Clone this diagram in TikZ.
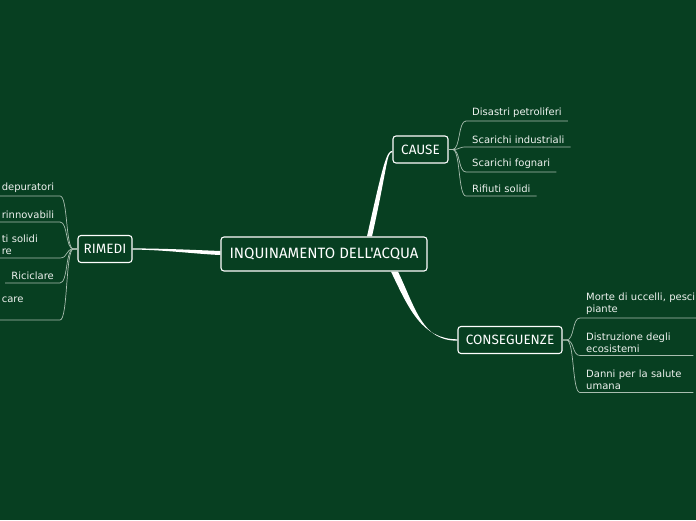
\documentclass[tikz,border=0pt]{standalone}
\usepackage{fontspec}
\setmainfont{DejaVu Sans}
\newfontfamily\handfont{Fira Sans}
\usepackage{tikz}
\usetikzlibrary{calc,positioning}
\definecolor{bgx}{HTML}{073F21}
\definecolor{twigx}{HTML}{A9BEB0}
\definecolor{leafx}{HTML}{EEF2EF}
\tikzset{
  topic/.style={draw=white,line width=1.1pt,rounded corners=3pt,fill=bgx,text=white,
    font=\handfont\fontsize{13.5}{15}\selectfont,minimum height=27pt,inner xsep=4pt},
  root/.style={topic,font=\handfont\fontsize{15}{17}\selectfont,minimum height=34pt,minimum width=206pt},
  leaf/.style={text=leafx,font=\fontsize{10}{12}\selectfont,align=left,inner xsep=6pt,inner ysep=3pt},
  cut/.style={leaf,text width=52pt},
  twig/.style={twigx,line width=0.7pt},
  trunk/.style={fill=white}
}

\begin{document}
\begin{tikzpicture}[x=1pt,y=-1pt]
\fill[bgx] (0,0) rectangle (696,520);
\useasboundingbox (0,0) rectangle (696,520);
\clip (0,0) rectangle (696,520);

% main topics
\node[root] (central) at (324,254) {INQUINAMENTO DELL'ACQUA};
\node[topic,minimum width=55pt] (cause) at (420.5,149.5) {CAUSE};
\node[topic,minimum width=54pt] (rimedi) at (105,249) {RIMEDI};
\node[topic,minimum width=104pt] (conseg) at (510,340) {CONSEGUENZE};

% branches
\fill[trunk] ($(central.north)+(43,0)$) .. controls +(16,-72) and +(-6,0) .. ($(cause.west)+(0,1.3)$)
  -- ($(cause.west)+(0,2.7)$) .. controls +(-6,0) and +(16,-72) .. ($(central.north)+(48,0)$) -- cycle;
\fill[trunk] ($(central.west)+(0,-3)$) .. controls +(-25,-1) and +(30,0) .. ($(rimedi.east)+(0,-0.6)$)
  -- ($(rimedi.east)+(0,0.6)$) .. controls +(30,0) and +(-25,-1) .. ($(central.west)+(0,1)$) -- cycle;
\fill[trunk] ($(central.south)+(67,0)$) .. controls +(18,38) and +(-35,0) .. ($(conseg.west)+(0,-0.7)$)
  -- ($(conseg.west)+(0,0.7)$) .. controls +(-35,0) and +(18,38) .. ($(central.south)+(74,0)$) -- cycle;

% cause
\node[leaf,anchor=south west] (c1) at (466,121) {Disastri petroliferi};
\node[leaf,anchor=south west] (c2) at (466,147) {Scarichi industriali};
\node[leaf,anchor=south west] (c3) at (466,172) {Scarichi fognari};
\node[leaf,anchor=south west] (c4) at (466,196) {Rifiuti solidi};
\foreach \n in {c1,c2,c3,c4}
  \draw[twig] (cause.east) -- ++(4,0) .. controls +(8,0) and +(-8,0) .. (\n.south west) -- (\n.south east);

% conseguenze
\node[leaf,anchor=south west,text width=125pt] (s1) at (580,318) {Morte di uccelli, pesci\\piante};
\node[leaf,anchor=south west,text width=101pt] (s2) at (580,355.5) {Distruzione degli\\ecosistemi};
\node[leaf,anchor=south west,text width=101pt] (s3) at (580,392.5) {Danni per la salute\\umana};
\foreach \n in {s1,s2,s3}
  \draw[twig] (conseg.east) -- ++(4,0) .. controls +(8,0) and +(-8,0) .. (\n.south west) -- (\n.south east);

% rimedi
\node[cut,anchor=south east] (r1) at (60,196) {depuratori};
\node[cut,anchor=south east] (r2) at (60,222) {rinnovabili};
\node[cut,anchor=south east] (r3) at (60,258) {ti solidi\\re};
\node[leaf,anchor=south east] (r4) at (60,283) {Riciclare};
\node[cut,anchor=south east,text depth=14.4pt] (r5) at (60,320) {care};
\foreach \n in {r1,r2,r3,r4,r5}
  \draw[twig] (rimedi.west) -- ++(-4,0) .. controls +(-8,0) and +(8,0) .. (\n.south east) -- (\n.south west);
\end{tikzpicture}
\end{document}
